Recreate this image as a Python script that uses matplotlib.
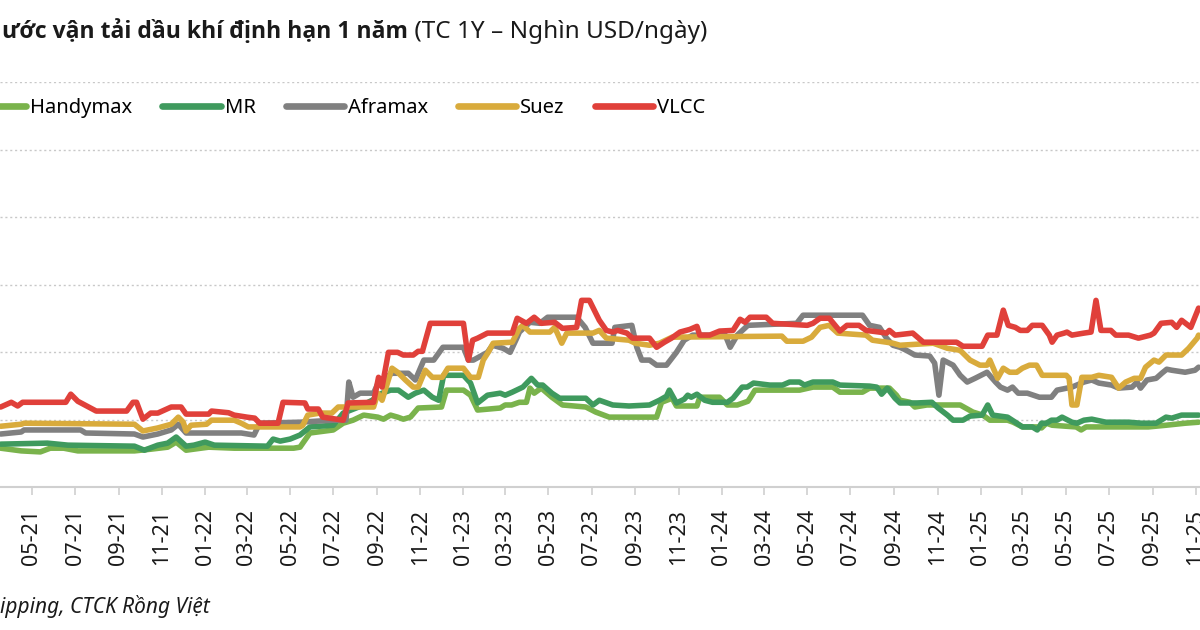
import matplotlib
matplotlib.use("Agg")
import matplotlib.pyplot as plt
import matplotlib.dates as mdates
import pandas as pd

plt.rcParams['font.family'] = ['Noto Sans', 'DejaVu Sans']

# ---------------- data (thousand USD/day) ----------------
series_names = ["Handymax", "MR", "Aframax", "Suez", "VLCC"]

handymax_dates = ["2021-03-18","2021-04-16","2021-05-13","2021-05-27","2021-06-15","2021-07-05","2021-09-23","2021-10-16","2021-11-09","2021-11-21","2021-12-05","2021-12-26","2022-01-06","2022-02-11","2022-05-06","2022-05-15","2022-05-19","2022-05-29","2022-07-01","2022-07-15","2022-07-29","2022-08-13","2022-09-02","2022-09-10","2022-09-20","2022-09-30","2022-10-08","2022-10-18","2022-10-29","2022-12-01","2022-12-08","2023-01-01","2023-01-11","2023-01-21","2023-02-22","2023-03-01","2023-03-10","2023-03-21","2023-03-31","2023-04-05","2023-04-11","2023-04-21","2023-05-06","2023-05-21","2023-06-23","2023-07-07","2023-07-26","2023-10-01","2023-10-08","2023-10-23","2023-10-29","2023-11-27","2023-12-01","2023-12-29","2024-01-09","2024-01-23","2024-02-07","2024-02-10","2024-02-17","2024-04-20","2024-05-09","2024-06-06","2024-06-16","2024-07-18","2024-07-28","2024-08-25","2024-09-04","2024-09-09","2024-09-23","2024-09-30","2024-10-17","2024-12-03","2024-12-21","2025-01-04","2025-01-14","2025-02-08","2025-02-16","2025-03-01","2025-03-21","2025-03-28","2025-04-04","2025-04-12","2025-05-02","2025-05-16","2025-05-23","2025-05-30","2025-08-26","2025-09-20","2025-10-17","2025-11-05"]
handymax_vals = [11.5,10.7,10.4,11.5,11.5,10.7,10.7,11.2,11.8,13.3,10.9,11.5,11.8,11.5,11.5,11.8,13.0,16.0,16.9,18.9,19.8,21.3,20.7,20.1,21.3,20.7,20.1,20.7,23.4,23.7,28.7,28.7,27.2,22.8,23.4,24.3,24.3,25.1,25.1,29.3,27.8,29.3,26.6,24.3,23.7,22.2,20.7,20.7,25.1,26.3,24.0,24.0,26.6,26.6,24.3,24.3,25.4,26.3,28.7,28.7,29.6,29.6,28.1,28.1,29.3,29.3,27.2,25.7,25.1,23.7,24.3,24.3,22.2,21.3,19.8,19.8,19.2,17.8,17.8,17.5,18.9,18.3,18.0,17.8,16.9,17.8,17.8,18.3,18.9,19.2]

mr_dates = ["2021-03-18","2021-05-23","2021-06-21","2021-09-23","2021-10-07","2021-10-26","2021-11-09","2021-11-21","2021-12-05","2021-12-16","2022-01-01","2022-01-14","2022-03-30","2022-04-07","2022-04-17","2022-05-01","2022-05-15","2022-05-29","2022-07-01","2022-07-15","2022-08-06","2022-08-25","2022-09-08","2022-09-20","2022-10-01","2022-10-15","2022-10-25","2022-11-06","2022-11-18","2022-11-27","2022-12-04","2023-01-01","2023-01-11","2023-01-21","2023-02-04","2023-02-22","2023-03-01","2023-03-11","2023-03-26","2023-04-07","2023-04-16","2023-04-23","2023-05-06","2023-05-17","2023-06-23","2023-07-03","2023-07-12","2023-07-31","2023-08-23","2023-09-21","2023-10-05","2023-10-15","2023-10-19","2023-10-29","2023-11-09","2023-11-14","2023-11-19","2023-11-27","2023-12-08","2023-12-19","2024-01-09","2024-01-17","2024-01-24","2024-01-30","2024-02-06","2024-02-15","2024-03-09","2024-03-27","2024-04-06","2024-04-20","2024-04-27","2024-05-09","2024-06-06","2024-06-16","2024-07-28","2024-08-07","2024-08-14","2024-08-22","2024-09-02","2024-09-09","2024-10-03","2024-10-24","2024-11-02","2024-11-15","2024-11-23","2024-12-07","2024-12-17","2025-01-03","2025-01-11","2025-01-18","2025-02-08","2025-02-19","2025-03-01","2025-03-15","2025-03-22","2025-03-28","2025-04-04","2025-04-11","2025-04-19","2025-04-26","2025-05-10","2025-05-17","2025-05-27","2025-06-07","2025-06-27","2025-07-29","2025-08-16","2025-09-06","2025-09-20","2025-09-28","2025-10-12","2025-11-05"]
mr_vals = [12.7,13.0,12.4,12.1,10.9,12.4,13.0,14.8,12.1,12.4,13.3,12.4,12.1,14.2,13.6,14.2,15.4,17.8,18.3,21.9,23.7,25.7,27.8,28.7,28.7,26.6,27.8,28.7,26.6,25.7,33.1,33.1,30.8,24.9,27.2,27.8,27.2,28.1,29.6,32.2,30.2,30.2,27.8,26.3,26.3,24.3,25.7,24.3,24.0,24.3,25.7,26.9,28.7,24.9,26.0,27.2,26.6,27.5,25.7,25.1,25.1,26.3,28.1,29.6,29.6,30.8,30.2,30.2,31.1,31.1,30.2,31.1,31.1,30.2,29.9,29.6,27.5,29.3,26.3,24.9,24.9,25.1,23.4,21.3,19.8,19.8,21.0,21.3,24.3,21.3,20.7,19.2,17.8,17.8,16.9,18.9,18.9,19.8,19.8,20.7,19.2,18.9,19.8,20.1,19.2,19.2,18.9,18.9,20.7,20.4,21.3,21.3]

aframax_dates = ["2021-03-18","2021-04-16","2021-04-20","2021-07-09","2021-07-16","2021-09-23","2021-10-05","2021-10-26","2021-11-14","2021-11-24","2021-12-05","2022-02-21","2022-03-11","2022-03-19","2022-05-15","2022-07-01","2022-07-19","2022-07-23","2022-07-29","2022-08-08","2022-08-27","2022-09-03","2022-09-22","2022-10-15","2022-10-25","2022-11-06","2022-11-20","2022-12-03","2023-01-01","2023-01-08","2023-01-15","2023-02-04","2023-02-11","2023-02-26","2023-03-08","2023-03-18","2023-03-21","2023-04-05","2023-04-19","2023-04-30","2023-06-10","2023-06-22","2023-07-03","2023-07-30","2023-08-03","2023-08-27","2023-09-03","2023-09-10","2023-09-21","2023-10-01","2023-10-15","2023-10-29","2023-11-09","2023-11-21","2024-01-06","2024-01-13","2024-01-23","2024-02-07","2024-04-16","2024-04-25","2024-07-18","2024-07-28","2024-08-11","2024-08-21","2024-08-30","2024-09-09","2024-09-18","2024-09-30","2024-10-21","2024-10-28","2024-11-03","2024-11-09","2024-11-23","2024-12-03","2024-12-13","2024-12-24","2025-01-10","2025-01-22","2025-01-29","2025-02-08","2025-02-15","2025-02-23","2025-03-08","2025-03-25","2025-04-11","2025-04-19","2025-05-10","2025-05-27","2025-06-07","2025-06-17","2025-07-05","2025-07-15","2025-08-03","2025-08-10","2025-08-15","2025-08-24","2025-09-06","2025-09-14","2025-09-21","2025-09-28","2025-10-17","2025-10-31","2025-11-05"]
aframax_vals = [15.7,16.3,16.9,16.9,16.0,15.7,14.8,15.7,16.9,18.6,16.0,16.0,15.4,18.9,19.2,19.8,19.8,31.1,26.6,27.8,27.8,31.1,33.7,33.7,31.7,37.6,37.6,41.4,41.4,37.6,37.6,39.9,42.0,41.1,39.9,44.4,45.9,48.8,48.5,50.3,50.3,47.3,42.6,42.6,47.3,47.9,41.4,37.6,37.6,36.1,36.1,39.9,43.5,45.0,45.0,41.4,45.0,47.9,48.5,50.9,50.9,47.9,47.3,44.1,42.0,41.4,40.5,39.1,38.8,36.7,27.2,37.6,36.1,33.1,31.1,32.2,34.0,31.1,29.6,28.7,29.6,27.8,27.8,26.6,26.6,28.7,29.6,31.1,31.7,30.8,30.2,29.3,29.6,31.1,29.3,31.7,32.2,33.7,34.9,34.6,34.0,34.6,35.5]

suez_dates = ["2021-03-18","2021-04-16","2021-04-20","2021-09-23","2021-10-05","2021-10-26","2021-11-14","2021-11-24","2021-12-01","2021-12-05","2021-12-12","2022-01-03","2022-01-10","2022-02-11","2022-02-21","2022-03-03","2022-05-15","2022-05-19","2022-05-26","2022-06-12","2022-06-29","2022-07-08","2022-08-27","2022-09-02","2022-09-08","2022-09-22","2022-09-30","2022-10-11","2022-10-22","2022-10-29","2022-11-08","2022-11-18","2022-12-02","2022-12-10","2023-01-01","2023-01-11","2023-01-22","2023-01-29","2023-02-05","2023-02-12","2023-03-11","2023-03-21","2023-03-26","2023-04-05","2023-05-03","2023-05-10","2023-05-20","2023-05-27","2023-07-03","2023-07-12","2023-07-22","2023-08-23","2023-09-01","2023-09-21","2023-10-05","2023-10-23","2024-03-26","2024-04-02","2024-04-25","2024-05-07","2024-05-19","2024-06-01","2024-06-13","2024-07-23","2024-08-01","2024-08-21","2024-08-30","2024-09-09","2024-10-26","2024-11-15","2024-12-03","2024-12-17","2024-12-31","2025-01-10","2025-01-14","2025-01-25","2025-02-02","2025-02-11","2025-02-21","2025-03-01","2025-03-11","2025-03-21","2025-03-29","2025-05-02","2025-05-06","2025-05-10","2025-05-17","2025-05-24","2025-06-07","2025-06-17","2025-07-05","2025-07-15","2025-07-25","2025-08-06","2025-08-15","2025-08-22","2025-09-03","2025-09-10","2025-09-20","2025-10-12","2025-10-22","2025-11-03","2025-11-05"]
suez_vals = [18.0,18.6,18.9,18.6,16.6,17.5,18.6,20.7,19.2,16.6,18.3,18.6,19.8,19.8,18.9,17.8,17.8,18.3,21.3,21.9,21.9,23.7,23.7,27.8,25.7,35.2,34.0,31.7,29.6,29.6,34.6,32.5,32.5,35.2,35.2,32.5,32.5,37.6,39.9,42.6,42.9,47.0,47.9,45.9,45.9,47.3,42.6,45.6,45.6,46.4,44.1,43.5,42.6,42.0,42.6,44.4,44.7,43.2,43.2,44.4,47.3,47.9,45.6,45.0,43.5,42.9,42.6,42.0,42.6,41.1,40.5,37.6,36.1,36.1,37.6,32.2,35.2,34.0,34.0,35.2,36.1,36.1,33.1,33.1,32.2,24.3,24.3,32.5,32.5,33.1,32.5,29.3,31.1,32.2,32.2,35.5,37.6,37.0,39.1,39.1,41.1,44.1,45.0]

vlcc_dates = ["2021-03-18","2021-04-02","2021-04-11","2021-04-18","2021-06-18","2021-06-25","2021-07-05","2021-07-31","2021-09-12","2021-09-21","2021-09-26","2021-10-05","2021-10-16","2021-10-26","2021-11-14","2021-11-28","2021-12-05","2022-01-06","2022-01-10","2022-02-03","2022-02-11","2022-03-01","2022-03-12","2022-03-19","2022-04-14","2022-04-21","2022-05-22","2022-05-26","2022-06-10","2022-06-16","2022-07-15","2022-07-22","2022-08-27","2022-09-03","2022-09-08","2022-09-17","2022-09-30","2022-10-08","2022-10-22","2022-10-29","2022-11-04","2022-11-15","2023-01-01","2023-01-08","2023-01-14","2023-01-21","2023-02-04","2023-03-11","2023-03-18","2023-03-31","2023-04-11","2023-04-21","2023-05-10","2023-05-21","2023-06-10","2023-06-17","2023-06-28","2023-07-12","2023-07-22","2023-07-31","2023-08-07","2023-08-20","2023-08-28","2023-09-21","2023-10-01","2023-10-12","2023-10-22","2023-11-03","2023-11-17","2023-11-27","2023-12-01","2023-12-15","2023-12-29","2024-01-17","2024-01-27","2024-02-03","2024-02-10","2024-03-04","2024-03-13","2024-05-01","2024-05-09","2024-05-19","2024-06-01","2024-06-16","2024-06-26","2024-07-13","2024-07-23","2024-08-11","2024-08-21","2024-08-25","2024-09-02","2024-09-27","2024-10-12","2024-11-28","2024-12-07","2025-01-03","2025-01-11","2025-01-24","2025-02-02","2025-02-09","2025-02-19","2025-02-26","2025-03-08","2025-03-15","2025-03-29","2025-04-08","2025-04-12","2025-04-19","2025-04-29","2025-05-03","2025-05-10","2025-05-27","2025-06-06","2025-06-13","2025-06-20","2025-07-04","2025-07-11","2025-07-29","2025-08-12","2025-08-29","2025-09-03","2025-09-13","2025-09-28","2025-10-05","2025-10-12","2025-10-25","2025-11-05"]
vlcc_vals = [23.7,25.1,24.0,25.1,25.1,27.5,25.4,22.5,22.5,25.1,25.1,20.1,21.9,21.9,23.7,23.7,21.6,21.6,22.5,22.0,21.3,20.7,20.4,18.9,18.9,25.1,24.9,23.1,23.1,20.7,19.8,24.9,25.1,32.5,29.6,39.9,39.9,39.1,39.1,40.2,40.2,48.5,48.5,37.6,43.5,44.1,45.6,45.6,50.0,48.5,50.3,48.5,48.8,47.0,47.3,55.3,55.3,49.4,46.4,45.9,46.4,45.6,44.1,44.1,41.4,42.9,44.1,45.9,46.7,47.6,45.0,45.0,46.2,46.4,49.7,48.8,50.3,50.3,48.5,47.9,48.5,50.0,50.0,46.2,47.9,47.9,46.4,45.9,45.6,46.4,45.0,45.6,42.9,42.9,41.7,41.7,45.0,45.0,52.4,47.9,47.3,46.4,46.4,47.9,47.9,45.0,42.9,45.0,45.6,45.9,45.0,45.6,45.9,55.3,46.4,46.4,45.0,45.0,44.1,45.0,45.6,48.5,48.8,47.3,49.4,47.3,53.0]

colors = ["#7ab34c", "#3f9a5e", "#808080", "#d9ab3c", "#e0403a"]

title_bold = "ước vận tải dầu khí định hạn 1 năm"
title_rest = " (TC 1Y – Nghìn USD/ngày)"
source_text = "ipping, CTCK Rồng Việt"

y_min, y_max, y_step = 0, 120, 20
x_start, x_end = "2021-03-17", "2025-11-07"

# ---------------- figure ----------------
fig = plt.figure(figsize=(12, 6.3), dpi=100)
ax = fig.add_axes([0.0, (630 - 487) / 630, 1.0, (487 - 82) / 630])

all_dates = [handymax_dates, mr_dates, aframax_dates, suez_dates, vlcc_dates]
all_vals = [handymax_vals, mr_vals, aframax_vals, suez_vals, vlcc_vals]
for name, d, v, c in zip(series_names, all_dates, all_vals, colors):
    ax.plot(pd.to_datetime(d), v, color=c, lw=4.0, label=name,
            solid_joinstyle="round", solid_capstyle="round")

ax.set_xlim(pd.Timestamp(x_start), pd.Timestamp(x_end))
ax.set_ylim(y_min, y_max)
ax.set_yticks(range(y_min + y_step, y_max + 1, y_step))
ax.yaxis.grid(True, color="#c8c8c8", linestyle=(0, (1.5, 2)), lw=1.0)
ax.set_axisbelow(True)
ax.tick_params(axis="y", left=False, labelleft=False)

for s in ["left", "right", "top"]:
    ax.spines[s].set_visible(False)
ax.spines["bottom"].set_color("#d0d0d0")
ax.spines["bottom"].set_linewidth(1.5)

ax.xaxis.set_major_locator(mdates.MonthLocator(bymonth=[1, 3, 5, 7, 9, 11]))
ax.xaxis.set_major_formatter(mdates.DateFormatter("%m-%y"))
ax.tick_params(axis="x", direction="out", length=6, width=1.2, color="#d0d0d0",
               labelsize=15.5, labelcolor="#1a1a1a", pad=10, labelrotation=90)

leg = ax.legend(loc="center left", bbox_to_anchor=(-32 / 1200, 1 - 108 / 630),
                bbox_transform=fig.transFigure, ncol=5, frameon=False,
                fontsize=14.5, handlelength=2.9, handletextpad=0.2,
                columnspacing=1.48, borderpad=0, borderaxespad=0)
for h in leg.get_lines():
    h.set_linewidth(4.8)
    h.set_solid_capstyle("round")

t1 = fig.text(0.002, 1 - 32 / 630, title_bold, fontsize=16.5, fontweight="bold",
              family=["Open Sans", "DejaVu Sans"],
              color="#1a1a1a", va="center", ha="left")
ax.annotate(title_rest, xy=(1, 0), xycoords=t1, va="bottom", ha="left",
            fontsize=17.5, color="#1a1a1a", annotation_clip=False)

fig.text(0.0, 1 - 607 / 630, source_text, fontsize=15, style="italic",
         color="#1a1a1a", va="center", ha="left")

fig.savefig("out.png", dpi=100)
